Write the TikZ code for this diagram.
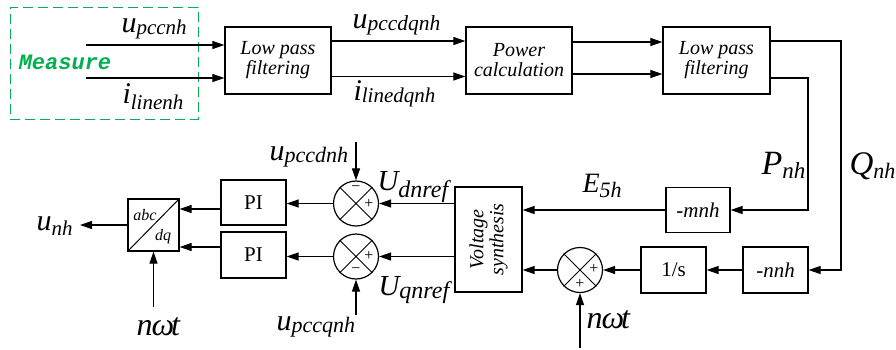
\documentclass[tikz,border=0pt]{standalone}
\usepackage{fontspec}
\setmainfont{Liberation Serif}
\newfontfamily\measfont{Liberation Mono}
\usetikzlibrary{arrows.meta}
\definecolor{mgreen}{RGB}{0,176,80}
\newcommand\fs[1]{\fontsize{#1}{#1}\selectfont}
% size, main, subsize, sub, lowering (pt)
\newcommand\sig[5]{{\fs{#1}\itshape #2\raisebox{-#5pt}{\fs{#3}#4}}}
\begin{document}
\begin{tikzpicture}[x=1pt,y=-1pt,line width=1.1pt,
  arr/.style={-{Triangle[length=12pt,width=8pt]}},
  blk/.style={draw,line width=1.2pt,rectangle,inner sep=0pt,align=center},
  sumc/.style={draw,line width=1.2pt,circle,inner sep=0pt,minimum size=45pt},
  lbl/.style={inner sep=0pt,anchor=base west},
  sgn/.style={inner sep=0pt,font=\fs{16}}]
\useasboundingbox (0,0) rectangle (896,349);

% measure box
\node[draw=mgreen,dash pattern=on 10pt off 5pt,line width=1pt,minimum width=188pt,minimum height=112pt,inner sep=0pt] (meas) at (104,63) {};
\node[text=mgreen,font=\measfont\fs{22}\bfseries\itshape,inner sep=0pt] (mtxt) at (65,62) {Measure};

% blocks
\node[blk,minimum width=106pt,minimum height=67pt,font=\fs{20}\itshape] (lpf1) at (278,60.5) {Low pass\\filtering};
\node[blk,minimum width=106pt,minimum height=67pt,font=\fs{20}\itshape] (pc) at (519,60.5) {Power\\calculation};
\node[blk,minimum width=107pt,minimum height=67pt,font=\fs{20}\itshape] (lpf2) at (716.5,60.5) {Low pass\\filtering};
\node[blk,minimum width=64pt,minimum height=45pt,font=\fs{21}\itshape] (mnh) at (698,210) {-mnh};
\node[blk,minimum width=65pt,minimum height=46pt,font=\fs{21}\itshape] (nnh) at (775.5,270) {-nnh};
\node[blk,minimum width=65pt,minimum height=46pt,font=\fs{21}] (inv) at (673.5,270) {1/s};
\node[blk,minimum width=67pt,minimum height=105pt] (vs) at (488.5,239.5) {};
\node[inner sep=0pt,rotate=90,font=\fs{20}\itshape,align=center] (vstxt) at (vs.center) {Voltage\\synthesis};
\node[blk,minimum width=65pt,minimum height=45pt,font=\fs{21}] (pi1) at (253.5,202.5) {PI};
\node[blk,minimum width=65pt,minimum height=46pt,font=\fs{21}] (pi2) at (253.5,255) {PI};
\node[blk,minimum width=51pt,minimum height=52pt] (abc) at (153.5,225) {};
\draw[line width=1pt] (abc.south west) -- (abc.north east);
\node[inner sep=0pt,font=\fs{16}\itshape] (abct) at (145,215) {abc};
\node[inner sep=0pt,font=\fs{16}\itshape] (dqt) at (163,237) {dq};

% summing junctions
\node[sumc] (c1) at (356,203.5) {};
\node[sumc] (c2) at (356,256.5) {};
\node[sumc] (cr) at (580,270) {};
\foreach \c in {c1,c2,cr}{
  \draw[line width=1pt] (\c.north west) -- (\c.south east) (\c.north east) -- (\c.south west);}
\node[sgn] (s1a) at (356,189) {−};
\node[sgn] (s1b) at (369,204) {+};
\node[sgn] (s2a) at (369,256) {+};
\node[sgn] (s2b) at (356,271) {−};
\node[sgn] (s3a) at (594,269) {+};
\node[sgn] (s3b) at (580,284) {+};

% free ends
\coordinate (in1) at (86,45);
\coordinate (in2) at (86,78);
\coordinate (ud) at (356,142);
\coordinate (uq) at (356,315);
\coordinate (nw1) at (153.5,307);
\coordinate (nw2) at (580,348);
\coordinate (out) at (80,225);

% connectors
\draw[arr] (in1) -- (in1 -| lpf1.west);
\draw[arr] (in2) -- (in2 -| lpf1.west);
\draw[arr] (lpf1.east |- 0,41) -- (pc.west |- 0,41);
\draw[arr] (lpf1.east |- 0,76.5) -- (pc.west |- 0,76.5);
\draw[arr] (pc.east |- 0,42) -- (lpf2.west |- 0,42);
\draw[arr] (pc.east |- 0,74) -- (lpf2.west |- 0,74);
\draw[arr] (lpf2.east |- 0,78) -- (808,78) |- (mnh.east);
\draw[arr] (lpf2.east |- 0,41) -- (841,41) |- (nnh.east);
\draw[arr] (mnh.west) -- (mnh.west -| vs.east);
\draw[arr] (nnh.west) -- (inv.east);
\draw[arr] (inv.west) -- (cr.east);
\draw[arr] (cr.west) -- (cr.west -| vs.east);
\draw[arr] (nw2) -- (cr.south);
\draw[arr] (c1.east -| vs.west) -- (c1.east);
\draw[arr] (c2.east -| vs.west) -- (c2.east);
\draw[arr] (ud) -- (c1.north);
\draw[arr] (uq) -- (c2.south);
\draw[arr] (c1.west) -- (c1.west -| pi1.east);
\draw[arr] (c2.west) -- (c2.west -| pi2.east);
\draw[arr] (pi1.west |- 0,209) -- (abc.east |- 0,209);
\draw[arr] (pi2.west |- 0,247) -- (abc.east |- 0,247);
\draw[arr] (abc.west) -- (out);
\draw[arr] (nw1) -- (abc.south);

% labels
\node[lbl] (l1) at (121,32) {\sig{30}{u}{21}{pccnh}{2}};
\node[lbl] (l2) at (122,103) {\sig{30}{i}{21}{linenh}{6}};
\node[lbl] (l3) at (352,28) {\sig{30}{u}{21.5}{pccdqnh}{2}};
\node[lbl] (l4) at (353,100) {\sig{30}{i}{21}{linedqnh}{2}};
\node[lbl] (l5) at (761,174) {\sig{34}{P}{23}{nh}{4}};
\node[lbl] (l6) at (849,174) {\sig{33}{Q}{22}{nh}{4}};
\node[lbl] (l7) at (582,192) {\sig{28}{E}{22}{5h}{5}};
\node[lbl] (l8) at (377,190) {\sig{29}{U}{24}{dnref}{7}};
\node[lbl] (l9) at (378,295) {\sig{29}{U}{24}{qnref}{3}};
\node[lbl] (l10) at (269,160) {\sig{30}{u}{22}{pccdnh}{2}};
\node[lbl] (l11) at (276,330) {\sig{30}{u}{22}{pccqnh}{2}};
\node[lbl] (l12) at (36,230) {\sig{30}{u}{21}{nh}{5}};
\node[lbl,font=\fs{32}\itshape] (l13) at (136,335) {n\kern-1ptω\kern-3ptt};
\node[lbl,font=\fs{32}\itshape] (l14) at (586,328) {n\kern-1ptω\kern-3ptt};
\end{tikzpicture}
\end{document}
